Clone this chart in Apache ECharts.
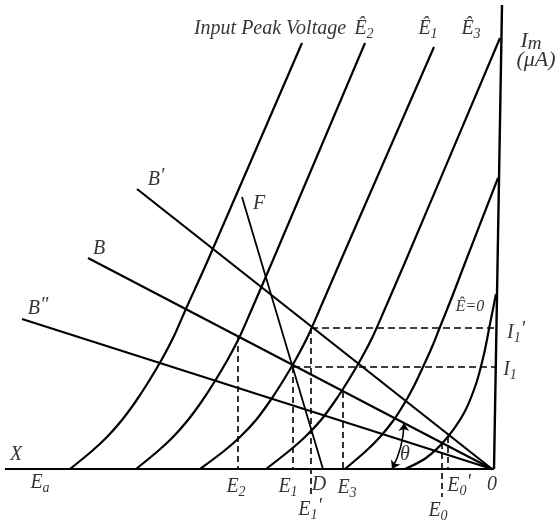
<!DOCTYPE html>
<html>
<head>
<meta charset="utf-8">
<script src="https://cdn.jsdelivr.net/npm/echarts@6/dist/echarts.min.js"></script>
<style>
  html, body { margin: 0; padding: 0; background: #fff; }
  #chart { width: 559px; height: 524px; }
</style>
</head>
<body>
<div id="chart"></div>
<script>
// characteristic curves (x = bias, y = mean current)
var curveA = [[-422, 0], [-400, 18], [-385, 32], [-370, 49], [-356, 68], [-343, 88], [-330, 110], [-318, 133], [-307, 158], [-284, 209], [-190, 426]];
var curveB = [[-356, 0], [-334, 18], [-319, 32], [-304, 49], [-290, 68], [-277, 88], [-264, 110], [-252, 133], [-241, 158], [-219, 209], [-127, 426]];
var curveC = [[-292, 0], [-268, 18], [-252, 32], [-236, 49], [-222, 68], [-209, 88], [-196, 110], [-184, 133], [-173, 158], [-151, 209], [-58, 422]];
var curveD = [[-226, 0], [-203, 18], [-187, 32], [-171, 49], [-157, 68], [-144, 88], [-131, 110], [-119, 133], [-108, 158], [-86, 209], [8, 431]];
var curveE = [[-147, 0], [-126, 18], [-112, 32], [-99, 48], [-88, 65], [-78, 83], [-69, 102], [-60, 122], [-52, 142], [-40, 172], [-27, 206], [6, 291]];
var curveF = [[-87, 0], [-66, 11], [-46, 30], [-28, 56], [-16, 85], [-8, 115], [-2, 145], [4, 175]];

// load lines through the origin and the F line
var lineBp = [[-355, 280], [0, 0]];
var lineB = [[-404, 211], [0, 0]];
var lineBpp = [[-470, 150], [0, 0]];
var lineF = [[-250, 272], [-169, 0]];
var axisX = [[-487, 0], [2, 0]];
var axisY = [[2, 0], [10, 464]];

// dashed drops and levels
var dropX = [-254, -199, -181, -149, -50, -44];
var dropTop = [133, 102, 141, 77, 26, 32];
var dropBottom = [0, 0, -27, 0, -28, 0];
var levelY = [141, 102];
var levelFrom = [-181, -199];
var levelTo = [6, 5];

// theta arc ends
var thetaArc = [[-100, 0], [-88, 46]];

// labels
var labelText = [
  'X', '{e|E}{s|a}', '{e|E}{s|2}', '{e|E}{s|1}', 'D', '{e|E}{s|3}', '{e|E}{s|1}{p|\'}',
  '{e|E}{s|0}{p|\'}', '{e|E}{s|0}', '0', 'θ',
  'B{p|\'}', 'B', 'B{p|"}', 'F', '{sm|Ê=0}', '{e|I}{s|1}{p|\'}', '{e|I}{s|1}',
  '{big|I}{sb|m}', '{big|(μA)}',
  'Input Peak Voltage', '{e|Ê}{s|2}', '{e|Ê}{s|1}', '{e|Ê}{s|3}'
];
var labelAt = [
  [-476, 14], [-452, -14], [-256, -18], [-204, -18], [-173, -16], [-145, -19], [-182, -41],
  [-33, -17], [-54, -42], [0, -16], [-87, 14],
  [-336, 289], [-393, 220], [-454, 160], [-233, 265], [-22, 162], [24, 136], [18, 99],
  [39, 428], [44, 409],
  [-222, 440], [-128, 440], [-64, 440], [-21, 440]
];

var serif = '"Liberation Serif", "DejaVu Serif", serif';
var ink = '#000';

var chart = echarts.init(document.getElementById('chart'), null, {renderer: 'canvas'});

var series = [];

function solid(data, width, smooth) {
  series.push({
    type: 'line',
    data: data,
    smooth: smooth || false,
    showSymbol: false,
    silent: true,
    lineStyle: {color: ink, width: width}
  });
}

[curveA, curveB, curveC, curveD, curveE, curveF].forEach(function (c) {
  solid(c, 2.2, 0.3);
});
solid(lineBp, 2.2);
solid(lineB, 2.2);
solid(lineBpp, 2.2);
solid(lineF, 1.8);
solid(axisX, 2.2);
solid(axisY, 2.4);

dropX.forEach(function (x, i) {
  series.push({
    type: 'line',
    data: [[x, dropTop[i]], [x, dropBottom[i]]],
    showSymbol: false,
    silent: true,
    lineStyle: {color: ink, width: 1.6, type: [6, 4]}
  });
});
levelY.forEach(function (y, i) {
  series.push({
    type: 'line',
    data: [[levelFrom[i], y], [levelTo[i], y]],
    showSymbol: false,
    silent: true,
    lineStyle: {color: ink, width: 1.6, type: [7, 4]}
  });
});

// theta arrow arc
series.push({
  type: 'lines',
  coordinateSystem: 'cartesian2d',
  silent: true,
  symbol: ['arrow', 'arrow'],
  symbolSize: 8,
  lineStyle: {color: ink, width: 1.6, curveness: -0.12, opacity: 1},
  data: [{coords: thetaArc}]
});

// text labels
series.push({
  type: 'scatter',
  symbolSize: 0,
  silent: true,
  data: labelAt.map(function (p, i) { return {value: p, name: labelText[i]}; }),
  label: {
    show: true,
    position: 'inside',
    formatter: function (p) { return p.name; },
    color: ink,
    fontFamily: serif,
    fontStyle: 'italic',
    fontSize: 20,
    rich: {
      e: {fontFamily: serif, fontStyle: 'italic', fontSize: 20, color: ink},
      s: {fontFamily: serif, fontStyle: 'italic', fontSize: 14, color: ink, padding: [10, 0, 0, 0]},
      p: {fontFamily: serif, fontStyle: 'italic', fontSize: 20, color: ink, padding: [0, 0, 6, 0]},
      sm: {fontFamily: serif, fontStyle: 'italic', fontSize: 16, color: ink},
      big: {fontFamily: serif, fontStyle: 'italic', fontSize: 22, color: ink},
      sb: {fontFamily: serif, fontStyle: 'italic', fontSize: 19, color: ink, padding: [6, 0, 0, 0]}
    }
  }
});

var option = {
  animation: false,
  backgroundColor: '#fff',
  grid: {left: 0, top: 0, width: 559, height: 524},
  xAxis: {type: 'value', min: -492, max: 67, show: false},
  yAxis: {type: 'value', min: -55, max: 469, show: false},
  series: series
};

chart.setOption(option);
</script>
</body>
</html>
